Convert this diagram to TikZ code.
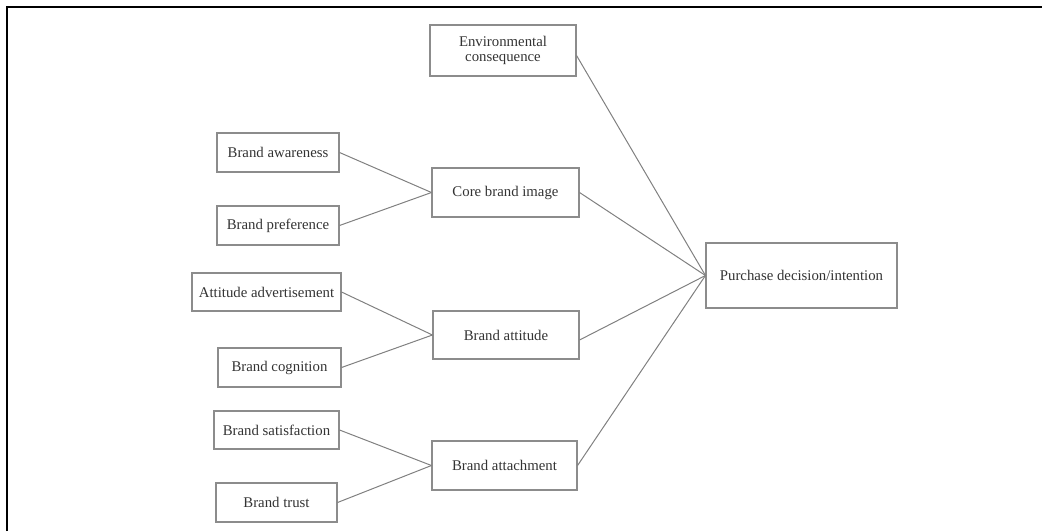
\documentclass[tikz,border=0pt]{standalone}
\usepackage{fontspec}
\setmainfont{Liberation Serif}
\begin{document}
\begin{tikzpicture}[x=1pt,y=-1pt,
  box/.style={draw=black!45, line width=1.1pt, inner sep=0pt, align=center,
    text=black!80, font=\fontsize{14.8}{15.5}\selectfont},
  link/.style={draw=black!50, line width=1pt}]
\useasboundingbox (0,0) rectangle (1042,531);
\draw[line width=2pt, black] (7,531) -- (7,7) -- (1042,7);
\node[box, minimum width=146pt, minimum height=51pt] (env) at (503,50.5) {Environmental\\consequence};
\node[box, minimum width=122pt, minimum height=39pt] (aware) at (278,152.5) {Brand awareness};
\node[box, minimum width=122pt, minimum height=39pt] (pref) at (278,225.5) {Brand preference};
\node[box, minimum width=147pt, minimum height=49pt] (core) at (505.5,192.5) {Core brand image};
\node[box, minimum width=191pt, minimum height=65pt] (purch) at (801.5,275.5) {Purchase decision/intention};
\node[box, minimum width=149pt, minimum height=38pt] (adv) at (266.5,292) {Attitude advertisement};
\node[box, minimum width=123pt, minimum height=39pt] (cog) at (279.5,367.5) {Brand cognition};
\node[box, minimum width=146pt, minimum height=48pt] (att) at (506,335) {Brand attitude};
\node[box, minimum width=125pt, minimum height=38pt] (sat) at (276.5,430) {Brand satisfaction};
\node[box, minimum width=121pt, minimum height=39pt] (trust) at (276.5,502.5) {Brand trust};
\node[box, minimum width=145pt, minimum height=49pt] (attach) at (504.5,465.5) {Brand attachment};
\draw[link] (aware.east) -- (core.west);
\draw[link] (pref.east) -- (core.west);
\draw[link] (adv.east) -- (att.west);
\draw[link] (cog.east) -- (att.west);
\draw[link] (sat.east) -- (attach.west);
\draw[link] (trust.east) -- (attach.west);
\draw[link] ([yshift=-5pt]env.east) -- (purch.west);
\draw[link] (core.east) -- (purch.west);
\draw[link] ([yshift=-5pt]att.east) -- (purch.west);
\draw[link] (attach.east) -- (purch.west);
\end{tikzpicture}
\end{document}
